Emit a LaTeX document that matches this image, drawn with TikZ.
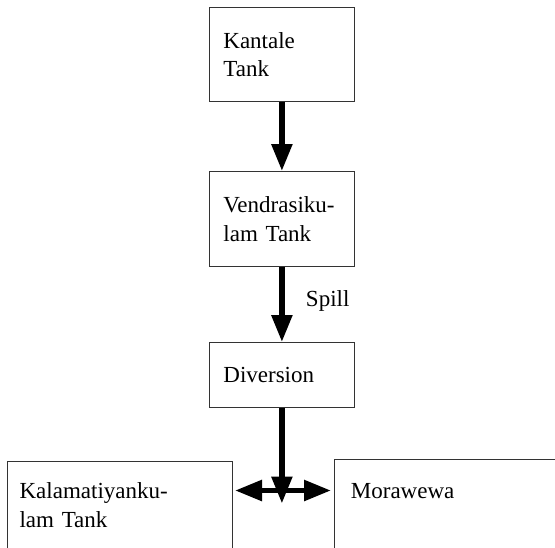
\documentclass[tikz,border=0pt]{standalone}
\usepackage{fontspec}
\setmainfont{Liberation Serif}
\usetikzlibrary{arrows.meta}
\begin{document}
\begin{tikzpicture}[x=1pt,y=-1pt,font=\fontsize{23}{28.5}\selectfont,
  >={Triangle[length=27pt,width=20pt]},
  tank/.style={draw=black!80,line width=.8pt,anchor=north west,align=left},
  flow/.style={line width=5.5pt,->}]
\useasboundingbox (0,0) rectangle (555,547);
\clip (0,0) rectangle (555,547);
%
% tanks
\node[tank,text width=117pt,inner xsep=14pt,minimum height=94pt] (kantale) at (209,7) {Kantale\\Tank};
\node[tank,text width=117pt,inner xsep=14pt,minimum height=95pt] (vendra) at (209,171) {Vendrasiku-\\lam Tank};
\node[tank,text width=117pt,inner xsep=14pt,minimum height=65pt] (diversion) at (209,342) {Diversion};
\node[tank,text width=200pt,inner xsep=12.5pt,minimum height=87pt] (kalam) at (6.7,461) {Kalamatiyanku-\\lam Tank};
\node[tank,text width=250pt,inner xsep=16.5pt,inner ysep=22pt,text height=17pt,text depth=90pt] (morawewa) at (334,459) {Morawewa};
%
% flows
\coordinate (fork) at (281.5,490.5);
\coordinate (drop) at (diversion.south |- 0,503.5);
\draw[flow] (kantale) -- (vendra);
\draw[flow] (vendra) -- node[right=18pt,pos=.45] {Spill} (diversion);
\draw[flow] (diversion) -- (drop);
\draw[flow,<->] ([xshift=2.5pt]kalam.east |- fork) -- ([xshift=-3pt]morawewa.west |- fork);
\end{tikzpicture}
\end{document}
